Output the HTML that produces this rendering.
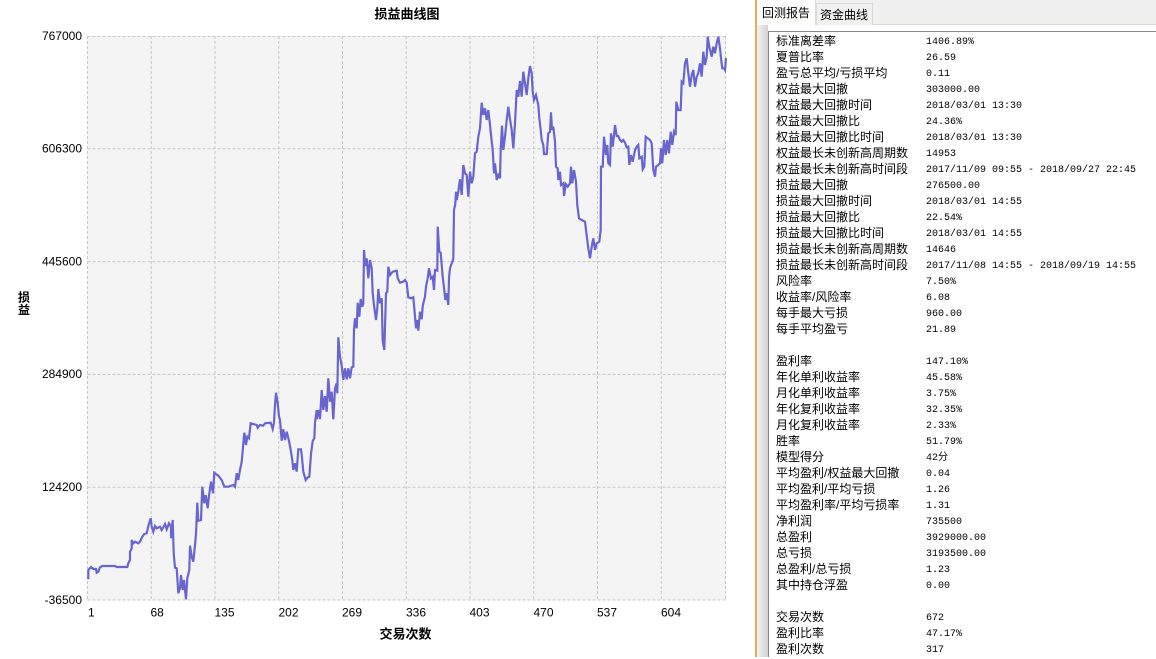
<!DOCTYPE html>
<html>
<head>
<meta charset="utf-8">
<style>
  html,body{margin:0;padding:0;}
  body{width:1156px;height:657px;position:relative;overflow:hidden;background:#fff;font-family:"Liberation Sans","Noto Sans CJK SC",sans-serif;}
  .abs{position:absolute;}
  .rows{position:absolute;left:776px;top:33px;font-size:12px;color:#000;}
  .row{height:16px;line-height:16px;position:relative;white-space:nowrap;}
  .row .l{position:absolute;left:0;top:0;font-family:"Liberation Sans","Noto Sans CJK SC",sans-serif;font-size:12px;line-height:16px;}
  .row .v{position:absolute;left:150px;top:2px;font-family:"Liberation Mono","Noto Sans CJK SC",monospace;font-size:10px;line-height:16px;}
</style>
</head>
<body>
<svg class="abs" style="left:0;top:0" width="755" height="657" viewBox="0 0 755 657">
  <rect x="0" y="0" width="755" height="657" fill="#fff"/>
  <rect x="87.5" y="36" width="638.5" height="564" fill="#f4f4f4"/>
  <g stroke="#c6c6c6" stroke-width="1" stroke-dasharray="3,2" fill="none">
    <line x1="87.5" y1="36.5" x2="726" y2="36.5"/>
    <line x1="87.5" y1="148.8" x2="726" y2="148.8"/>
    <line x1="87.5" y1="261.6" x2="726" y2="261.6"/>
    <line x1="87.5" y1="374.4" x2="726" y2="374.4"/>
    <line x1="87.5" y1="487.2" x2="726" y2="487.2"/>
    <line x1="87.5" y1="600" x2="726" y2="600"/>
    <line x1="87.5" y1="36" x2="87.5" y2="600"/>
    <line x1="151.25" y1="36" x2="151.25" y2="600"/>
    <line x1="215" y1="36" x2="215" y2="600"/>
    <line x1="278.75" y1="36" x2="278.75" y2="600"/>
    <line x1="342.5" y1="36" x2="342.5" y2="600"/>
    <line x1="406.25" y1="36" x2="406.25" y2="600"/>
    <line x1="470" y1="36" x2="470" y2="600"/>
    <line x1="533.75" y1="36" x2="533.75" y2="600"/>
    <line x1="597.5" y1="36" x2="597.5" y2="600"/>
    <line x1="661.25" y1="36" x2="661.25" y2="600"/>
    <line x1="725.5" y1="36" x2="725.5" y2="600"/>
  </g>
  <polyline fill="none" stroke="#6965cf" stroke-width="2.2" stroke-linejoin="miter" points="
88.3,579.3 88.3,570 91,567 93.3,569 96,569 96.7,572.7 98.3,571.7 100,567.3 102.3,566 115,566 116.7,567 127.3,567 128.3,563.3 130,560 130,551.7 131.7,548.3 131.7,540 133.3,543.3 135,541.7 138.3,543.3 140,541.7 142.3,536.7 144.3,534 146.7,533.3 148.3,526 150.7,518.3 151.7,526.7 153.3,531.7 155,526 156.7,528.3 160,526.7 161.7,530 165,524 166.7,529.3 169,523.3 171,526.7 171,538.3 172.7,520 173.7,553.3 175,567.7 176.7,568.3 178.3,593.3 180,588.3 181,575 182.7,590 184,580 185,590 186,599.3 187.3,578.3 189.3,570 190,545.7 191.7,556.7 193.3,561.7 195,545 196,534 197.3,502.7 198.3,520.7 201,520 202.3,486.7 204.3,503.3 205.7,495 207.7,508.3 209,495.7 211,481.7 213,493.3 214.3,472.7 216,474 218.3,475.7 221.7,480 224.3,486.7 228.3,486.7 233.3,485 235,486.7 236.7,473.3 238.3,480 240,470 241.7,461.7 244.3,432.7 246,445 247.3,436.7 249,438.3 250.7,423.3 256.7,425 257.7,427.7 260,425 263.3,425.7 265,423.3 270.7,422.7 272.7,429 274,422.7 275,405 276,392.7 277.7,403.3 279,416.7 280,420 281.7,440.7 283.3,429.3 285,440 286.7,431.7 289,441 290.7,450 292.3,460 293.3,470 295,463.3 296.7,471.7 298.3,449.3 301,449.3 301.7,455 303.3,471.7 305.7,480 307.7,477.3 309.3,476.7 311,454 312.7,441 314.3,438.3 315,422.7 316.7,410
316.7,419.3 318.3,410 320,419 321.7,390 323.3,410 325,396 326.7,411.7 328.3,378.3 330,401.7 331.7,391.7 333.3,419.3 335,388.3 336.7,383.3 337.3,393.3 338.3,337.3 340,356.7 341.7,366 343.3,380 345,368.3 346.7,379.3 348.3,368.3 350,378.3 351.7,367.3 353.3,366.7 354,329.3 355,318.3 356.7,328.3 357.7,302.7 359.3,316.7 360.7,299 362.3,306.7 363.3,303.3 364,250 365.3,266 366.7,258.3 368.3,278.3 370,260 371.7,268.3 372.7,293.3 374,305 376,320 377.3,308.3 378.3,289 380,303.3 381.7,298.3 382.7,340.7 384.3,350 386,293.3 387.3,291.7 388.3,266.7 390,275 392.7,271.7 396.7,270.7 397.7,278.3 400,282.7 403.3,281.7 405,280 406.7,282.7 408.3,297.3 411,298.3 413.3,297.3 414.3,308.3 416,328.3 417.3,320 418.3,330.7 420,311.7 421.7,319.3 422.7,306 425,296.7 426,286.7 427.7,278.3 429,268.3 431,278.3 432.7,276.7 434,290 435,270 437.3,270.7 437.7,226.7 439.3,251.7 440.7,252.7 441.7,265 442.7,276.7 444.3,290 445.3,300 446.7,293.3 448.3,305 449,278.3 450,268.3 451.7,263.3 453.3,259.3 454,210 455.3,204 456,191.7 456.7,200 458.3,191.7 460,179.3 461.7,195 463.3,165 465,173.3 466.7,175 468.3,196.7 470,171.7 471.7,183.3 473.3,176.7 475,153.3 476.7,151.7 478.3,136.7 480,128.3 481.7,102.7 483.3,115 485,108.3 486.7,120 488.3,110 490,125 491,135 492.7,150 494,173.3 495,163.3 496.7,180 498.3,175 500,178.3 500.7,150 502,125.7 503.3,150 505,136.7 506.7,120 508.3,106.7 510,119.3 511.7,130 513.3,148.3 515,123.3 516.7,90 518.3,96.7 520,81 521.7,96.7 523.3,71.7 525,83.3 526.7,95 528.3,78.3 530,66 531.7,73.3 532.7,91.7 534,100 536,95 538.3,105 539.3,118.3
540.7,130 541.7,140 543.3,145 544,154 546.7,154 548.3,133.3 550,131.7 551,112.3 552,130 553.3,126.7 555,141.7 556,166.7 557.7,168.3 558.3,180 560,171.7 561,185 563.3,183.3 564,196 565.7,184 567.7,186.7 570,183.3 571,166.7 572.3,183.3 574,170 576,181.7 577.3,205 579,218.3 581.7,220 585,221.7 586,230 588.3,248.3 590,258.3 591.7,246.7 593.3,238.3 595,250 596.7,243.3 599.3,241.7 600.7,230 601,166.7 602.7,166.7 604,136.7 606,155 607.3,145 608.3,163.3 610,165 611,133.3 612.7,146.7 614,135 615,125 616.7,136 618.3,136 620,140 621.7,141.7 623.3,140 625,142.7 626.7,147.3 628.3,146.7 629.3,165 631,155 632.7,161.7 635,150 636.7,146.7 638.3,145 639.3,158.3 641.7,156.7 642.7,169.3 644.3,166.7 645.7,136.7 647.7,138.3 650,140 651.7,143.3 653.3,170 655,176.7 656,166.7 658.3,165 660,163.3 661,148.3 662.3,163.3 664,140 665.7,155 667.3,140 669,153.3 670.7,131.7 672.3,145 674,131.7 675.7,135 676.3,101.7 678.3,110 680.7,110 681.7,81.7 683.3,83.3 685,63.3 686.7,58.3 688.3,73.3 690,86.7 691.7,75 693.3,70 695,86.7 696.7,76.7 698.3,73.3 700,63.3 701.7,76.7 703.3,51.7 705,65 706.7,56.7 707.7,36.7 709.3,46.7 711.7,56.7 713.3,46.7 715,53.3 716.7,43.3 718.3,36.7 720,48.3 721,58.3 722.3,68.3 724,68.3 725,70 726,58"/>
  <g font-family="Liberation Sans, sans-serif" font-size="12" fill="#000" text-anchor="end" dominant-baseline="central">
    <text x="82" y="36">767000</text>
    <text x="82" y="148.5">606300</text>
    <text x="82" y="261.3">445600</text>
    <text x="82" y="374">284900</text>
    <text x="82" y="487">124200</text>
    <text x="82" y="600">-36500</text>
  </g>
  <g font-family="Liberation Sans, sans-serif" font-size="12" fill="#000" text-anchor="start">
    <text x="88" y="616.3">1</text>
    <text x="150.5" y="616.3">68</text>
    <text x="214.5" y="616.3">135</text>
    <text x="278.5" y="616.3">202</text>
    <text x="342" y="616.3">269</text>
    <text x="406" y="616.3">336</text>
    <text x="469.5" y="616.3">403</text>
    <text x="533.5" y="616.3">470</text>
    <text x="597" y="616.3">537</text>
    <text x="661" y="616.3">604</text>
  </g>
  <g font-family="Noto Sans CJK SC, sans-serif" font-weight="bold" fill="#000" text-anchor="middle" dominant-baseline="central">
    <text x="407" y="13" font-size="13">损益曲线图</text>
    <text x="405.5" y="633" font-size="13">交易次数</text>
    <text x="24" y="297" font-size="12">损</text>
    <text x="24" y="309.5" font-size="12">益</text>
  </g>
</svg>

<!-- right panel -->
<div class="abs" style="left:755px;top:0;width:2px;height:657px;background:#e3ad58;"></div>
<div class="abs" style="left:757px;top:0;width:399px;height:24px;background:#f0f0f0;"></div>
<div class="abs" style="left:757px;top:24px;width:399px;height:1px;background:#d9d9d9;"></div>
<div class="abs" style="left:757px;top:25px;width:399px;height:6px;background:#fff;"></div>
<div class="abs" style="left:757px;top:25px;width:11px;height:632px;background:linear-gradient(to right,#f3f3f3,#d2d2d2);"></div>
<div class="abs" style="left:757px;top:0;width:58px;height:25px;background:#fcfcfc;border-right:1px solid #d9d9d9;"></div>
<div class="abs" style="left:762px;top:5px;font-size:12px;line-height:16px;color:#000;">回测报告</div>
<div class="abs" style="left:816px;top:3px;width:55px;height:21px;background:#f0f0f0;border:1px solid #d9d9d9;border-bottom:none;"></div>
<div class="abs" style="left:820px;top:7px;font-size:12px;line-height:16px;color:#000;">资金曲线</div>
<div class="abs" style="left:768px;top:31px;width:388px;height:626px;background:#fff;border-left:1px solid #828790;border-top:1px solid #828790;box-sizing:border-box;"></div>

<div class="rows">
  <div class="row"><span class="l">标准离差率</span><span class="v">1406.89%</span></div>
  <div class="row"><span class="l">夏普比率</span><span class="v">26.59</span></div>
  <div class="row"><span class="l">盈亏总平均/亏损平均</span><span class="v">0.11</span></div>
  <div class="row"><span class="l">权益最大回撤</span><span class="v">303000.00</span></div>
  <div class="row"><span class="l">权益最大回撤时间</span><span class="v">2018/03/01 13:30</span></div>
  <div class="row"><span class="l">权益最大回撤比</span><span class="v">24.36%</span></div>
  <div class="row"><span class="l">权益最大回撤比时间</span><span class="v">2018/03/01 13:30</span></div>
  <div class="row"><span class="l">权益最长未创新高周期数</span><span class="v">14953</span></div>
  <div class="row"><span class="l">权益最长未创新高时间段</span><span class="v">2017/11/09 09:55 - 2018/09/27 22:45</span></div>
  <div class="row"><span class="l">损益最大回撤</span><span class="v">276500.00</span></div>
  <div class="row"><span class="l">损益最大回撤时间</span><span class="v">2018/03/01 14:55</span></div>
  <div class="row"><span class="l">损益最大回撤比</span><span class="v">22.54%</span></div>
  <div class="row"><span class="l">损益最大回撤比时间</span><span class="v">2018/03/01 14:55</span></div>
  <div class="row"><span class="l">损益最长未创新高周期数</span><span class="v">14646</span></div>
  <div class="row"><span class="l">损益最长未创新高时间段</span><span class="v">2017/11/08 14:55 - 2018/09/19 14:55</span></div>
  <div class="row"><span class="l">风险率</span><span class="v">7.50%</span></div>
  <div class="row"><span class="l">收益率/风险率</span><span class="v">6.08</span></div>
  <div class="row"><span class="l">每手最大亏损</span><span class="v">960.00</span></div>
  <div class="row"><span class="l">每手平均盈亏</span><span class="v">21.89</span></div>
  <div class="row"></div>
  <div class="row"><span class="l">盈利率</span><span class="v">147.10%</span></div>
  <div class="row"><span class="l">年化单利收益率</span><span class="v">45.58%</span></div>
  <div class="row"><span class="l">月化单利收益率</span><span class="v">3.75%</span></div>
  <div class="row"><span class="l">年化复利收益率</span><span class="v">32.35%</span></div>
  <div class="row"><span class="l">月化复利收益率</span><span class="v">2.33%</span></div>
  <div class="row"><span class="l">胜率</span><span class="v">51.79%</span></div>
  <div class="row"><span class="l">模型得分</span><span class="v">42分</span></div>
  <div class="row"><span class="l">平均盈利/权益最大回撤</span><span class="v">0.04</span></div>
  <div class="row"><span class="l">平均盈利/平均亏损</span><span class="v">1.26</span></div>
  <div class="row"><span class="l">平均盈利率/平均亏损率</span><span class="v">1.31</span></div>
  <div class="row"><span class="l">净利润</span><span class="v">735500</span></div>
  <div class="row"><span class="l">总盈利</span><span class="v">3929000.00</span></div>
  <div class="row"><span class="l">总亏损</span><span class="v">3193500.00</span></div>
  <div class="row"><span class="l">总盈利/总亏损</span><span class="v">1.23</span></div>
  <div class="row"><span class="l">其中持仓浮盈</span><span class="v">0.00</span></div>
  <div class="row"></div>
  <div class="row"><span class="l">交易次数</span><span class="v">672</span></div>
  <div class="row"><span class="l">盈利比率</span><span class="v">47.17%</span></div>
  <div class="row"><span class="l">盈利次数</span><span class="v">317</span></div>
</div>
</body>
</html>
